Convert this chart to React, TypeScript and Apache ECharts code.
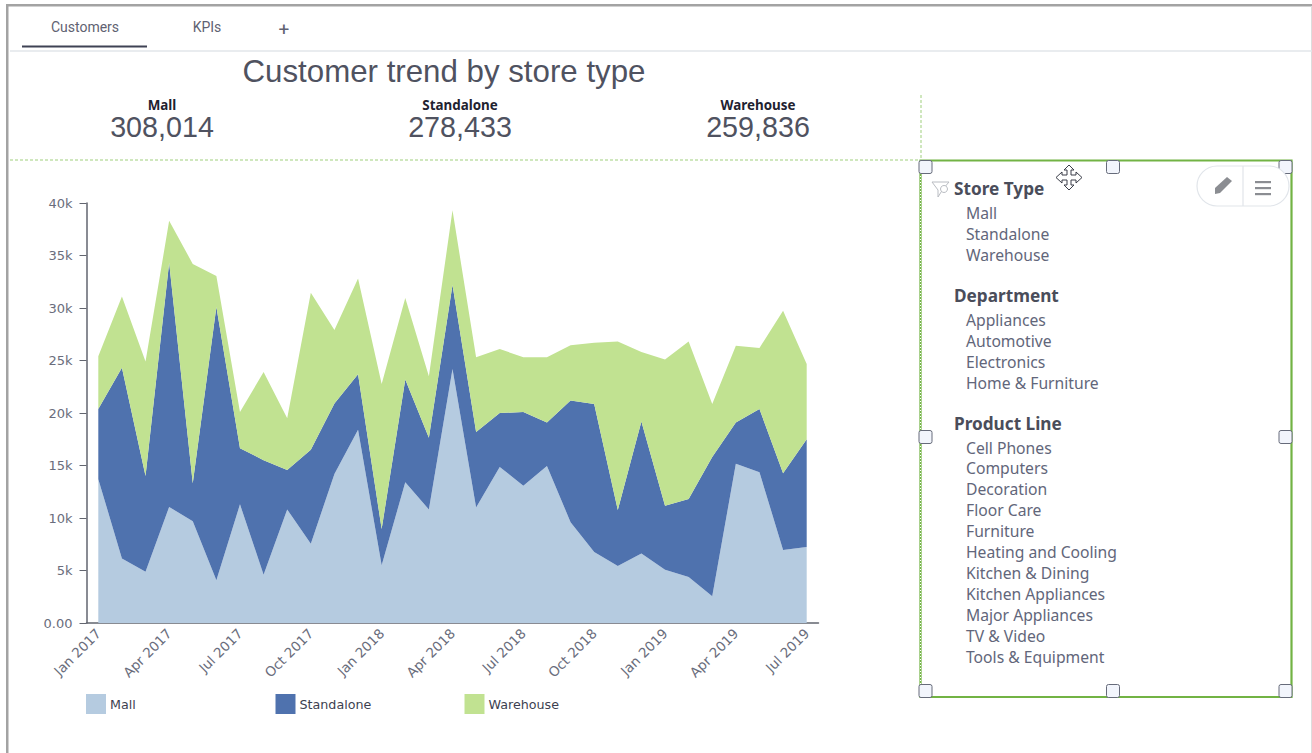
import React, { useEffect, useRef } from "react";
import * as echarts from "echarts";

const months = ["Jan 2017","Feb 2017","Mar 2017","Apr 2017","May 2017","Jun 2017","Jul 2017","Aug 2017","Sep 2017","Oct 2017","Nov 2017","Dec 2017","Jan 2018","Feb 2018","Mar 2018","Apr 2018","May 2018","Jun 2018","Jul 2018","Aug 2018","Sep 2018","Oct 2018","Nov 2018","Dec 2018","Jan 2019","Feb 2019","Mar 2019","Apr 2019","May 2019","Jun 2019","Jul 2019"];
const mall = [13700,6150,4870,11050,9700,4060,11300,4600,10800,7550,14200,18400,5500,13400,10800,24200,11000,14860,13080,14950,9600,6760,5430,6630,5080,4380,2540,15170,14350,6950,7240];
const standalone = [6680,18150,9130,23250,3600,26040,5350,10900,3770,8950,6700,5300,3450,9800,6850,8000,7200,5140,7020,4150,11600,14100,5330,12570,6090,7420,13260,3930,6030,7320,10260];
const warehouse = [5020,6800,10900,4000,20900,2950,3450,8400,4930,14950,7000,9100,13810,7750,5850,7100,7100,6100,5200,6200,5260,5840,16040,6600,13930,15000,5060,7300,5820,15480,7160];
const tabs = ["Customers", "KPIs", "+"];
const chartTitle = "Customer trend by store type";
const kpiNames = ["Mall", "Standalone", "Warehouse"];
const kpiValues = ["308,014", "278,433", "259,836"];
const filterStoreType = ["Mall", "Standalone", "Warehouse"];
const filterDepartment = ["Appliances", "Automotive", "Electronics", "Home & Furniture"];
const filterProductLine = ["Cell Phones", "Computers", "Decoration", "Floor Care", "Furniture", "Heating and Cooling", "Kitchen & Dining", "Kitchen Appliances", "Major Appliances", "TV & Video", "Tools & Equipment"];

const COLORS = { mall: "#b5cbe0", standalone: "#4f72ae", warehouse: "#c1e291" };
const AXIS = "#62656f";
const TEXT = "#6a6d7c";
const SIDE = '"Noto Sans"';

function txt(text: string, x: number, y: number, font: string, fill: string, align = "left") {
  return { type: "text", x, y, silent: true, style: { text, font, fill, textAlign: align, textVerticalAlign: "middle" } };
}
function rect(x: number, y: number, width: number, height: number, style: any, r = 0) {
  return { type: "rect", silent: true, shape: { x, y, width, height, r }, style };
}
function seg(x1: number, y1: number, x2: number, y2: number, style: any) {
  return { type: "line", silent: true, shape: { x1, y1, x2, y2 }, style };
}
function handle(cx: number, cy: number) {
  return rect(cx - 6.5, cy - 6.5, 13, 13, { fill: "#f2f5fc", stroke: "#666b7a", lineWidth: 1 }, 2);
}

function chrome() {
  const g: any[] = [];
  g.push(rect(6, 4, 1306, 2.5, { fill: "#a3a3a3" }));
  g.push(rect(6, 4, 2.5, 749, { fill: "#a3a3a3" }));
  g.push(rect(1311, 6, 1, 747, { fill: "#dddddd" }));
  g.push(seg(10, 51, 1312, 51, { stroke: "#e2e6ea", lineWidth: 1.5 }));
  g.push(rect(22, 45.5, 125, 2, { fill: "#3f4254" }));
  g.push(txt(tabs[0], 85, 26.5, "14px Roboto", "#5f6272", "center"));
  g.push(txt(tabs[1], 207, 26.5, "14px Roboto", "#5f6272", "center"));
  g.push(txt(tabs[2], 284, 29, "19px Roboto", "#5f6272", "center"));
  g.push(txt(chartTitle, 444, 71, '31.25px "Liberation Sans"', "#4f5260", "center"));
  [162, 460, 758].forEach((cx, i) => {
    g.push(txt(kpiNames[i], cx, 104.5, 'bold 13.4px "Noto Sans"', "#1f2230", "center"));
    g.push(txt(kpiValues[i], cx, 127, '28.7px "Liberation Sans"', "#4f5260", "center"));
  });
  const dash = { stroke: "#9fcf7c", lineWidth: 1, lineDash: [3, 2] };
  g.push(seg(10, 160, 920, 160, dash));
  g.push(seg(921, 95, 921, 160, dash));
  g.push(rect(920.5, 160.5, 371, 536.5, { fill: "none", stroke: "#72b344", lineWidth: 2.2 }));
  g.push(seg(920.5, 161, 920.5, 697, { stroke: "#ffffff", lineWidth: 1, lineDash: [1, 2] }));
  [925.5, 1113, 1285.5].forEach((x) => {
    g.push(handle(x, 167));
    g.push(handle(x, 691));
  });
  g.push(handle(925.5, 437), handle(1285.5, 437));
  g.push(rect(1197, 166, 92, 40, { fill: "#ffffff", stroke: "#e1e5ea", lineWidth: 1.2 }, 20));
  g.push(seg(1243, 166, 1243, 206, { stroke: "#e1e5ea", lineWidth: 1.2 }));
  g.push({ type: "polygon", silent: true, shape: { points: [[1215, 188], [1227, 177], [1232, 181], [1220, 193], [1215, 194]] }, style: { fill: "#8b8d92" } });
  [182, 188, 194].forEach((y) => g.push(rect(1255, y - 1, 16, 2.2, { fill: "#8b8d92" })));
  g.push({ type: "polygon", silent: true, shape: { points: [[1069, 165], [1074, 170], [1071, 170], [1071, 175], [1076, 175], [1076, 172], [1082, 177.5], [1076, 183], [1076, 180], [1071, 180], [1071, 185], [1074, 185], [1069, 190], [1064, 185], [1067, 185], [1067, 180], [1062, 180], [1062, 183], [1056, 177.5], [1062, 172], [1062, 175], [1067, 175], [1067, 170], [1064, 170]] }, style: { fill: "#ffffff", stroke: "#3a3d48", lineWidth: 1 } });
  g.push({ type: "polyline", silent: true, shape: { points: [[932, 182], [949, 182], [943, 189], [938, 197], [938, 190], [932, 182]] }, style: { fill: "none", stroke: "#b9bcc2", lineWidth: 1 } });
  g.push({ type: "circle", silent: true, shape: { cx: 944, cy: 189, r: 3.5 }, style: { fill: "#ffffff", stroke: "#b9bcc2", lineWidth: 1 } });

  const H = `bold 17.2px ${SIDE}`;
  const I = `15.7px ${SIDE}`;
  const HC = "#4a4d5a";
  const IC = "#62667a";
  g.push(txt("Store Type", 954, 188.5, H, HC));
  filterStoreType.forEach((t, i) => g.push(txt(t, 966, 212.5 + i * 21, I, IC)));
  g.push(txt("Department", 954, 295.5, H, HC));
  filterDepartment.forEach((t, i) => g.push(txt(t, 966, 319.5 + i * 21, I, IC)));
  g.push(txt("Product Line", 954, 423.5, H, HC));
  filterProductLine.forEach((t, i) => g.push(txt(t, 966, 447.5 + i * 20.9, I, IC)));
  return g;
}

function area(name: string, data: number[], color: string) {
  return {
    name, type: "line", stack: "total", data, symbol: "none", showSymbol: false,
    lineStyle: { width: 0, color }, itemStyle: { color }, areaStyle: { color, opacity: 1 },
  };
}
function legend(name: string, left: number) {
  return {
    show: true, data: [name], left, top: 694, icon: "rect", itemWidth: 20, itemHeight: 20, padding: 0, itemGap: 0,
    selectedMode: false, textStyle: { color: "#3d3f50", fontFamily: "DejaVu Sans", fontSize: 12.7, padding: [2, 0, 0, -1] },
  };
}

export default function App() {
  const ref = useRef<HTMLDivElement>(null);
  useEffect(() => {
    const chart = echarts.init(ref.current!, null, { renderer: "svg" });
    chart.setOption({
      animation: false,
      backgroundColor: "#ffffff",
      grid: { left: 86.5, top: 203, width: 732, height: 420 },
      legend: [legend("Mall", 86), legend("Standalone", 275.5), legend("Warehouse", 464.5)],
      xAxis: {
        type: "category", data: months, boundaryGap: true,
        axisLine: { lineStyle: { color: AXIS, width: 1.5 } },
        axisTick: { alignWithLabel: true, interval: 2, length: 5, lineStyle: { color: AXIS } },
        axisLabel: { interval: 2, rotate: 45, color: TEXT, fontFamily: "DejaVu Sans", fontSize: 13.5, margin: 8 },
        splitLine: { show: false },
      },
      yAxis: {
        type: "value", min: 0, max: 40000, interval: 5000,
        axisLine: { show: true, lineStyle: { color: AXIS, width: 1.5 } },
        axisTick: { show: true, length: 7, lineStyle: { color: AXIS } },
        axisLabel: { color: TEXT, fontFamily: "DejaVu Sans", fontSize: 13, margin: 14, padding: [1, 0, 0, 0], formatter: (v: number) => (v === 0 ? "0.00" : `${v / 1000}k`) },
        splitLine: { show: false },
      },
      series: [area("Mall", mall, COLORS.mall), area("Standalone", standalone, COLORS.standalone), area("Warehouse", warehouse, COLORS.warehouse)],
      graphic: { elements: chrome() },
    });
    return () => chart.dispose();
  }, []);
  return <div ref={ref} style={{ position: "absolute", left: 0, top: 0, width: 1312, height: 753 }} />;
}
